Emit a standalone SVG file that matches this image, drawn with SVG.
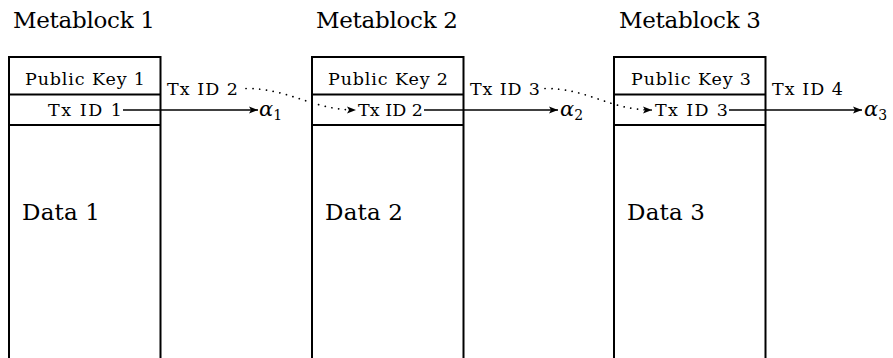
<svg xmlns="http://www.w3.org/2000/svg" width="893" height="358" viewBox="0 0 893 358">
<style>
text{font-family:'DejaVu Serif','Liberation Serif',serif;fill:#000}
.big{font-size:23px}
.mid{font-size:17.5px}
.c{text-anchor:middle}
.alpha{font-size:21px;font-style:italic}
.sub{font-size:14px;font-style:normal}
.box{fill:none;stroke:#000;stroke-width:2}
.arr{fill:none;stroke:#000;stroke-width:1.6;marker-end:url(#ah)}
.dot{fill:none;stroke:#000;stroke-width:1.7;stroke-linecap:round;stroke-dasharray:0.1 6.7;marker-end:url(#ah)}
</style>
<defs>
<marker id="ah" markerWidth="10" markerHeight="8" refX="9" refY="4" orient="auto" markerUnits="userSpaceOnUse">
<path d="M0,0.5 L9,4 L0,7.5 L2,4 Z" fill="#000"/>
</marker>
</defs>
<g id="metablock1">
<text class="big" x="13" y="28" textLength="142">Metablock 1</text>
<path class="box" d="M9,360 V57 H160.5 V360 M9,94.5 H160.5 M9,125 H160.5"/>
<text class="mid c" x="85" y="85" textLength="120">Public Key 1</text>
<text class="mid c" x="85" y="116" textLength="74">Tx ID 1</text>
<text class="big" x="22" y="220" textLength="78">Data 1</text>
</g>
<g id="metablock2">
<text class="big" x="316" y="28" textLength="142">Metablock 2</text>
<path class="box" d="M312,360 V57 H463.5 V360 M312,94.5 H463.5 M312,125 H463.5"/>
<text class="mid c" x="388" y="85" textLength="120">Public Key 2</text>
<text class="mid" x="358" y="116" textLength="65">Tx ID 2</text>
<text class="big" x="325" y="220" textLength="78">Data 2</text>
</g>
<g id="metablock3">
<text class="big" x="619" y="28" textLength="142">Metablock 3</text>
<path class="box" d="M614,360 V57 H765.5 V360 M614,94.5 H765.5 M614,125 H765.5"/>
<text class="mid c" x="691" y="85" textLength="120">Public Key 3</text>
<text class="mid" x="655" y="116" textLength="73">Tx ID 3</text>
<text class="big" x="627" y="220" textLength="78">Data 3</text>
</g>
<g id="labels">
<text class="mid" x="167" y="95" textLength="71">Tx ID 2</text>
<text class="mid" x="470" y="95" textLength="70">Tx ID 3</text>
<text class="mid" x="772" y="95" textLength="71">Tx ID 4</text>
<text class="alpha" x="259" y="116">α<tspan class="sub" dy="4">1</tspan></text>
<text class="alpha" x="560" y="116">α<tspan class="sub" dy="4">2</tspan></text>
<text class="alpha" x="864" y="116">α<tspan class="sub" dy="4">3</tspan></text>
</g>
<g id="connectors">
<path class="arr" d="M123,110 H258"/>
<path class="arr" d="M424,110 H558"/>
<path class="arr" d="M729,110 H862"/>
<path class="dot" d="M246,88.5 C290,88.5 312,110 356,110"/>
<path class="dot" d="M545,88.5 C589,88.5 609,110 652,110"/>
</g>
</svg>
